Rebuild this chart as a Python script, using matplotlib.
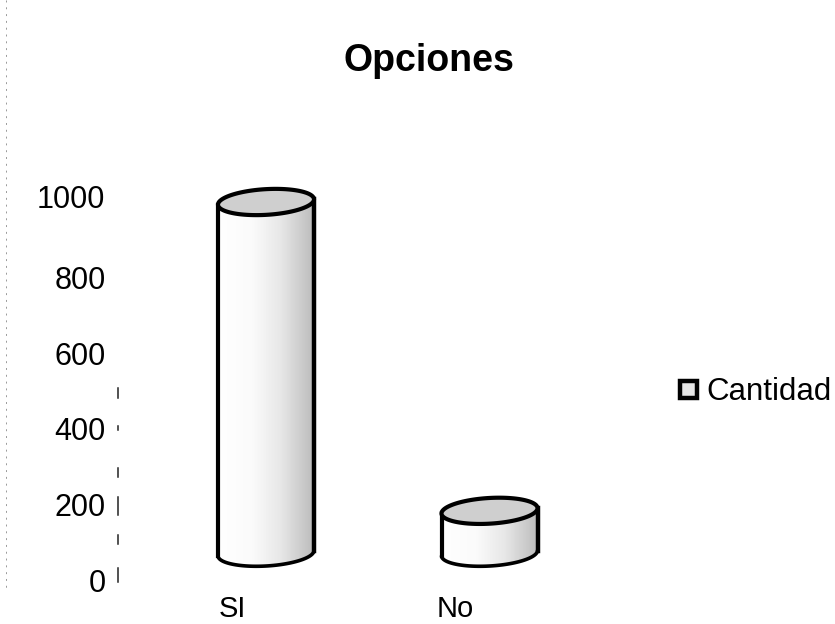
import matplotlib
matplotlib.use('Agg')
import matplotlib.pyplot as plt
import numpy as np
from matplotlib.colors import LinearSegmentedColormap
from matplotlib.patches import Polygon, Rectangle
from matplotlib.transforms import ScaledTranslation

plt.rcParams['font.family'] = ['Liberation Sans', 'DejaVu Sans']

categories = ['SI', 'No']
values = [929, 112]
ticks = [0, 200, 400, 600, 800, 1000]
series_name = 'Cantidad'
title = 'Opciones'

W, H = 835, 624
fig = plt.figure(figsize=(W/100, H/100), dpi=100, facecolor='white')
ax = fig.add_axes([120/W, 1-580/H, 520/W, 378/H])
ax.patch.set_alpha(0)
for s in ax.spines.values():
    s.set_visible(False)
ax.set_yticks(ticks)
ax.set_yticklabels([str(t) for t in ticks], fontsize=22, color='black')
ax.tick_params(axis='y', length=0, pad=10.5)
ax.get_yticklabels()[-1].set_transform(
    ax.get_yticklabels()[-1].get_transform() + ScaledTranslation(0, 4/72, fig.dpi_scale_trans))

centers = [146, 369.5]
half_w = 48
base = 71     # floor of the 3D plot, data units
cap_b = 34    # ellipse half-height, data units
cap_k = 7     # tilt of ellipses, data units
ax.set_xticks([112, 335])
ax.set_xticklabels(categories, fontsize=21, color='black')
ax.tick_params(axis='x', length=0, pad=11)

cmap = LinearSegmentedColormap.from_list('g', [(0, '#ffffff'), (0.35, '#fbfbfb'), (0.65, '#e8e8e8'), (1, '#bdbdbd')])
t = np.linspace(0, 2*np.pi, 200)
for c, v in zip(centers, values):
    top = base + v
    def ring(y0):
        return np.c_[c + half_w*np.cos(t), y0 + cap_b*np.sin(t) + cap_k*np.cos(t)]
    grad = np.linspace(0, 1, 64).reshape(1, -1)
    body = Polygon(np.r_[ring(base)[100:200], ring(top)[0:100]], closed=True,
                   facecolor='none', edgecolor='none', zorder=2, clip_on=False)
    ax.add_patch(body)
    im = ax.imshow(grad, extent=(c-half_w, c+half_w, base-cap_b-cap_k, top+cap_b), aspect='auto',
                   cmap=cmap, vmin=0, vmax=1, zorder=2)
    im.set_clip_path(body)
    ax.plot(*ring(base)[100:200].T, color='black', lw=2.6, zorder=3, solid_capstyle='round', clip_on=False)
    ax.plot([c-half_w, c-half_w], [base-cap_k, top-cap_k], color='black', lw=3, zorder=3, clip_on=False)
    ax.plot([c+half_w, c+half_w], [base+cap_k, top+cap_k], color='black', lw=3.2, zorder=3, clip_on=False)
    ax.add_patch(Polygon(ring(top), closed=True, facecolor='#cfcfcf', edgecolor='black', lw=3, zorder=4, clip_on=False))
ax.set_xlim(0, 520)
ax.set_ylim(0, 1000)

fig.text(429/W, 1-61/H, title, fontsize=27, fontweight='bold', ha='center', va='center', color='black')

# overlay in pixel coordinates: legend and the broken scan remnants
ov = fig.add_axes([0, 0, 1, 1]); ov.axis('off'); ov.set_xlim(0, W); ov.set_ylim(H, 0)
ov.add_patch(Rectangle((680, 381), 17, 17, facecolor='#e4e4e4', edgecolor='black', lw=3.2))
ov.text(706, 392, series_name, fontsize=22.5, va='center', ha='left', color='black')
for y0, y1 in [(388, 398), (426, 430), (468, 477), (497, 515), (535, 544), (568, 582)]:
    ov.plot([118, 118], [y0, y1], color='#222222', lw=1.1)
ov.plot([6, 6], [0, 590], color='#999999', lw=0.7, ls=(0, (2, 5)))

fig.savefig('out.png', dpi=100)
